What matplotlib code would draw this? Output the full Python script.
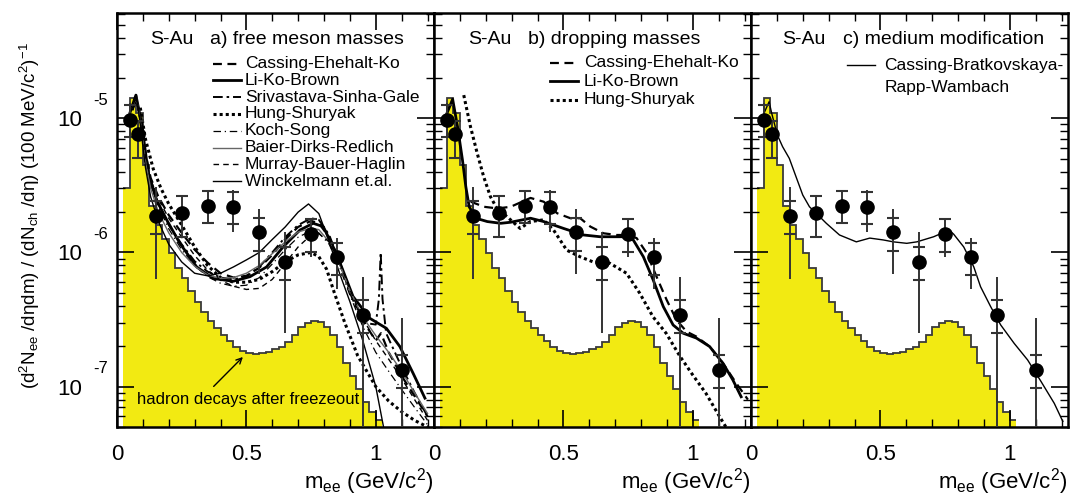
import numpy as np
import matplotlib.pyplot as plt

plt.rcParams['font.family'] = ['Liberation Sans', 'DejaVu Sans']
plt.rcParams['mathtext.fontset'] = 'custom'
plt.rcParams['mathtext.rm'] = 'Liberation Sans'
plt.rcParams['mathtext.it'] = 'Liberation Sans:italic'

# hadron decay cocktail, 25 MeV bins from 0.025 to 1.025 GeV
hist_edges = np.round(np.arange(0.025, 1.026, 0.025), 3)
hist_vals = [3.0e-6, 1.41e-5, 1.09e-5, 4.49e-6, 2.22e-6, 1.60e-6, 1.25e-6, 9.9e-7,
             7.6e-7, 6.4e-7, 5.2e-7, 4.3e-7, 3.58e-7, 3.1e-7, 2.72e-7, 2.43e-7,
             2.2e-7, 1.99e-7, 1.85e-7, 1.77e-7, 1.74e-7, 1.78e-7, 1.82e-7, 1.9e-7,
             1.99e-7, 2.14e-7, 2.43e-7, 2.8e-7, 3.0e-7, 3.1e-7, 3.05e-7, 2.8e-7,
             2.43e-7, 1.99e-7, 1.51e-7, 1.19e-7, 9.6e-8, 7.7e-8, 6.5e-8, 5.65e-8]

# CERES S-Au data
m_data = [0.05, 0.08, 0.15, 0.25, 0.35, 0.45, 0.55, 0.65, 0.75, 0.85, 0.95, 1.10]
y_data = [9.8e-6, 7.6e-6, 1.88e-6, 1.98e-6, 2.23e-6, 2.19e-6, 1.41e-6, 8.5e-7,
          1.37e-6, 9.2e-7, 3.44e-7, 1.33e-7]
stat_hi = [1.3e-5, 9.8e-6, 3.1e-6, 2.65e-6, 2.9e-6, 2.9e-6, 2.11e-6, 1.43e-6,
           1.8e-6, 1.29e-6, 6.6e-7, 3.24e-7]
stat_lo = [7.2e-6, 5.1e-6, 6.35e-7, 1.28e-6, 1.65e-6, 1.43e-6, 6.9e-7, 2.53e-7,
           9.2e-7, 5.3e-7, 1e-8, 1e-8]
sys_hi = [1.26e-5, 9.6e-6, 2.43e-6, 2.65e-6, 2.88e-6, 2.84e-6, 1.82e-6, 1.09e-6,
          1.77e-6, 1.18e-6, 4.43e-7, 1.71e-7]
sys_lo = [7.2e-6, 5.1e-6, 1.37e-6, 1.31e-6, 1.65e-6, 1.62e-6, 1.03e-6, 6.25e-7,
          1.0e-6, 6.8e-7, 2.52e-7, 9.7e-8]

# a) free meson masses
cek_a_m = [0.06, 0.075, 0.09, 0.11, 0.13, 0.16, 0.2, 0.25, 0.3, 0.35, 0.4, 0.45, 0.5, 0.55,
           0.6, 0.65, 0.7, 0.75, 0.78, 0.82, 0.86, 0.9, 0.95, 1.0, 1.02, 1.05, 1.1, 1.15, 1.2]
cek_a_y = [1.2e-5, 1.4e-5, 1.0e-5, 5.5e-6, 3.6e-6, 2.6e-6, 1.9e-6, 1.4e-6, 1.05e-6, 8.4e-7,
           7.0e-7, 6.5e-7, 6.7e-7, 7.7e-7, 9.6e-7, 1.25e-6, 1.55e-6, 1.72e-6, 1.65e-6, 1.3e-6,
           8.5e-7, 5.2e-7, 3.1e-7, 2.2e-7, 2.5e-7, 1.8e-7, 1.2e-7, 8.5e-8, 6e-8]
lkb_a_m = [0.05, 0.073, 0.095, 0.121, 0.153, 0.192, 0.243, 0.308, 0.372, 0.449, 0.514, 0.578,
           0.642, 0.707, 0.758, 0.797, 0.848, 0.912, 0.977, 1.041, 1.093, 1.144, 1.19]
lkb_a_y = [1.1e-5, 1.49e-5, 9.2e-6, 3.89e-6, 2.46e-6, 1.75e-6, 1.17e-6, 7.8e-7, 6.4e-7, 6.1e-7,
           6.6e-7, 7.8e-7, 1.1e-6, 1.47e-6, 1.65e-6, 1.56e-6, 9.8e-7, 4.7e-7, 3.23e-7, 2.72e-7,
           1.99e-7, 1.26e-7, 8.2e-8]
ssg_a_m = [0.06, 0.075, 0.09, 0.11, 0.13, 0.16, 0.2, 0.25, 0.3, 0.35, 0.4, 0.45, 0.5, 0.55,
           0.6, 0.65, 0.7, 0.75, 0.78, 0.82, 0.86, 0.9, 0.95, 1.0, 1.012, 1.019, 1.026, 1.04,
           1.1, 1.15, 1.2]
ssg_a_y = [1.15e-5, 1.4e-5, 9.8e-6, 5.2e-6, 3.3e-6, 2.3e-6, 1.6e-6, 1.15e-6, 8.6e-7, 7.2e-7,
           6.5e-7, 6.3e-7, 6.6e-7, 7.8e-7, 1.0e-6, 1.3e-6, 1.6e-6, 1.8e-6, 1.75e-6, 1.35e-6,
           8.5e-7, 5.0e-7, 3.0e-7, 2.9e-7, 4.5e-7, 1.0e-6, 4.5e-7, 2.5e-7, 1.4e-7, 9e-8, 6e-8]
hs_a_m = [0.09, 0.11, 0.14, 0.17, 0.2, 0.25, 0.3, 0.35, 0.4, 0.45, 0.5, 0.55, 0.6, 0.65,
          0.7, 0.75, 0.78, 0.81, 0.84, 0.88, 0.93, 1.0, 1.05, 1.1, 1.15, 1.2]
hs_a_y = [1.2e-5, 7e-6, 4.2e-6, 3.0e-6, 2.3e-6, 1.6e-6, 1.1e-6, 8e-7, 6.5e-7, 6.0e-7,
          6.0e-7, 6.3e-7, 7.2e-7, 8.5e-7, 9.6e-7, 1.0e-6, 9.3e-7, 7.5e-7, 5e-7, 3e-7,
          1.7e-7, 1.0e-7, 7.8e-8, 6.5e-8, 5.6e-8, 5.0e-8]
ks_a_m = [0.06, 0.075, 0.09, 0.11, 0.13, 0.16, 0.2, 0.25, 0.3, 0.35, 0.4, 0.45, 0.5, 0.55,
          0.6, 0.65, 0.7, 0.75, 0.78, 0.82, 0.86, 0.9, 0.95, 1.0, 1.05, 1.1, 1.15, 1.2]
ks_a_y = [1.15e-5, 1.4e-5, 9.5e-6, 5e-6, 3.2e-6, 2.2e-6, 1.5e-6, 1.05e-6, 8e-7, 6.6e-7,
          5.9e-7, 5.6e-7, 5.7e-7, 6.5e-7, 8.2e-7, 1.05e-6, 1.3e-6, 1.45e-6, 1.4e-6, 1.15e-6,
          7.8e-7, 4.8e-7, 2.8e-7, 1.8e-7, 1.3e-7, 9.5e-8, 7e-8, 5.2e-8]
bdr_a_m = [0.06, 0.075, 0.09, 0.11, 0.13, 0.16, 0.2, 0.25, 0.3, 0.35, 0.4, 0.45, 0.5, 0.55,
           0.6, 0.65, 0.7, 0.75, 0.78, 0.82, 0.86, 0.9, 0.95, 1.0, 1.05, 1.1, 1.15, 1.2]
bdr_a_y = [1.2e-5, 1.45e-5, 9.5e-6, 4.8e-6, 3.0e-6, 2.0e-6, 1.4e-6, 1.0e-6, 7.9e-7, 6.8e-7,
           6.4e-7, 6.5e-7, 7.0e-7, 8.0e-7, 9.8e-7, 1.2e-6, 1.42e-6, 1.52e-6, 1.48e-6, 1.2e-6,
           8.2e-7, 5.2e-7, 3.3e-7, 2.4e-7, 1.8e-7, 1.3e-7, 9e-8, 6.3e-8]
mbh_a_m = [0.06, 0.075, 0.09, 0.11, 0.13, 0.16, 0.2, 0.25, 0.3, 0.35, 0.4, 0.45, 0.5, 0.55,
           0.6, 0.65, 0.7, 0.75, 0.78, 0.82, 0.86, 0.9, 0.95, 1.0, 1.05, 1.1, 1.15, 1.2]
mbh_a_y = [1.15e-5, 1.4e-5, 9.5e-6, 5.2e-6, 3.5e-6, 2.5e-6, 1.8e-6, 1.3e-6, 9.5e-7, 7.4e-7,
           6.2e-7, 5.6e-7, 5.3e-7, 5.4e-7, 6.3e-7, 8.3e-7, 1.1e-6, 1.35e-6, 1.38e-6, 1.2e-6,
           8.5e-7, 5.3e-7, 3.2e-7, 2.2e-7, 1.6e-7, 1.15e-7, 8e-8, 5.6e-8]
win_a_m = [0.06, 0.075, 0.09, 0.11, 0.13, 0.16, 0.2, 0.25, 0.3, 0.35, 0.4, 0.45, 0.5, 0.55,
           0.6, 0.65, 0.7, 0.74, 0.78, 0.82, 0.86, 0.9, 0.95, 1.0, 1.03]
win_a_y = [1.2e-5, 1.5e-5, 9e-6, 4.3e-6, 2.6e-6, 1.7e-6, 1.15e-6, 8.5e-7, 7.0e-7, 6.7e-7,
           7.0e-7, 7.8e-7, 8.8e-7, 1.0e-6, 1.25e-6, 1.55e-6, 2.0e-6, 2.3e-6, 1.95e-6, 1.2e-6,
           7e-7, 4.3e-7, 2.2e-7, 1.0e-7, 5e-8]

# b) dropping masses
cek_b_m = [0.142, 0.194, 0.245, 0.296, 0.373, 0.424, 0.476, 0.527, 0.565, 0.604, 0.655,
           0.706, 0.745, 0.783, 0.822, 0.86, 0.899, 0.937, 0.976, 1.014, 1.065, 1.117, 1.168,
           1.213]
cek_b_y = [2.39e-6, 2.19e-6, 2.13e-6, 2.19e-6, 2.55e-6, 2.39e-6, 1.96e-6, 1.8e-6, 1.8e-6,
           1.56e-6, 1.39e-6, 1.35e-6, 1.35e-6, 1.28e-6, 9.9e-7, 6.6e-7, 4.43e-7, 3.14e-7,
           2.57e-7, 2.36e-7, 1.99e-7, 1.49e-7, 1.06e-7, 8.0e-8]
lkb_b_m = [0.05, 0.072, 0.091, 0.11, 0.123, 0.136, 0.162, 0.206, 0.258, 0.296, 0.373, 0.424,
           0.501, 0.578, 0.642, 0.732, 0.77, 0.809, 0.847, 0.886, 0.924, 0.963, 1.014, 1.065,
           1.117, 1.155, 1.187]
lkb_b_y = [1.09e-5, 1.39e-5, 8.66e-6, 4.89e-6, 3.09e-6, 2.19e-6, 1.8e-6, 1.7e-6, 1.65e-6,
           1.68e-6, 1.8e-6, 1.7e-6, 1.51e-6, 1.35e-6, 1.31e-6, 1.31e-6, 1.24e-6, 9.3e-7,
           6.24e-7, 3.95e-7, 2.88e-7, 2.5e-7, 2.3e-7, 1.99e-7, 1.49e-7, 1.12e-7, 8.4e-8]
hs_b_m = [0.115, 0.141, 0.167, 0.192, 0.218, 0.243, 0.282, 0.333, 0.372, 0.423, 0.462,
          0.513, 0.564, 0.615, 0.68, 0.744, 0.795, 0.846, 0.897, 0.949, 1.0, 1.051, 1.103,
          1.128]
hs_b_y = [1.49e-5, 8.66e-6, 5.49e-6, 3.67e-6, 2.61e-6, 2.13e-6, 1.85e-6, 1.51e-6, 1.7e-6,
          1.75e-6, 1.47e-6, 1.04e-6, 9.3e-7, 8.5e-7, 8.3e-7, 7.0e-7, 4.97e-7, 3.32e-7,
          2.5e-7, 1.7e-7, 1.22e-7, 8.9e-8, 6.0e-8, 5.0e-8]

# c) medium modification
cbrw_m = [0.05, 0.07, 0.08, 0.102, 0.122, 0.148, 0.174, 0.2, 0.226, 0.252, 0.291, 0.342,
          0.407, 0.459, 0.511, 0.55, 0.602, 0.641, 0.706, 0.765, 0.783, 0.822, 0.861, 0.887,
          0.926, 0.965, 1.017, 1.069, 1.121, 1.172, 1.205]
cbrw_y = [1.09e-5, 1.33e-5, 1.09e-5, 7.5e-6, 6.15e-6, 5.03e-6, 3.67e-6, 2.68e-6, 2.19e-6,
          1.96e-6, 1.65e-6, 1.35e-6, 1.2e-6, 1.28e-6, 1.24e-6, 1.2e-6, 1.17e-6, 1.2e-6,
          1.31e-6, 1.47e-6, 1.37e-6, 1.1e-6, 7.8e-7, 5.56e-7, 3.95e-7, 2.88e-7, 2.1e-7,
          1.58e-7, 1.09e-7, 7.5e-8, 5.5e-8]

yellow = '#f2ea12'
styles = {
    'cek': dict(color='black', lw=1.6, ls=(0, (4, 2.5))),
    'lkb': dict(color='black', lw=2.0, ls='-'),
    'ssg': dict(color='black', lw=1.4, ls=(0, (5, 2, 1.3, 2))),
    'hs': dict(color='black', lw=2.2, ls=(0, (1, 1))),
    'ks': dict(color='black', lw=0.9, ls=(0, (6, 3, 1, 3))),
    'bdr': dict(color='#666666', lw=1.0, ls='-'),
    'mbh': dict(color='black', lw=1.0, ls=(0, (4, 3))),
    'win': dict(color='black', lw=1.0, ls='-'),
}

fig = plt.figure(figsize=(10.7, 4.98), dpi=100)
W = 317 / 1070
axes = [fig.add_axes([117 / 1070 + i * W, 0.1426, W, 0.8313]) for i in range(3)]


def legend_rows(ax, rows, x0, x1, xt, y0, dy):
    # line sample plus text, in axes fraction
    for i, (key, label) in enumerate(rows):
        y = y0 - i * dy
        if key is not None:
            ax.plot([x0, x1], [y, y], transform=ax.transAxes, **styles[key])
        ax.text(xt, y, label, transform=ax.transAxes, fontsize=12.5, va='center', ha='left')


for i, ax in enumerate(axes):
    ax.stairs(hist_vals, hist_edges, fill=True, color=yellow, baseline=1e-9, lw=0)
    ax.stairs(hist_vals, hist_edges, baseline=None, color='#3a3a3a', lw=1.3)

    ax.set_yscale('log')
    ax.set_xlim(0, 1.225)
    ax.set_ylim(5.0e-8, 6.1e-5)
    ax.set_xticks([0, 0.5, 1.0])
    ax.set_xticklabels(['0', '0.5', '1'])
    ax.set_xticks(np.arange(0, 1.21, 0.1), minor=True)
    ax.set_yticks([1e-7, 1e-6, 1e-5])
    ax.tick_params(which='both', direction='in', top=True, right=True, labelsize=16)
    ax.tick_params(which='major', length=12, width=1.2)
    ax.tick_params(which='minor', length=6, width=1.0)
    ax.tick_params(axis='x', pad=12)
    ax.tick_params(axis='y', pad=25)
    for s in ax.spines.values():
        s.set_linewidth(1.8)
    if i == 0:
        ax.set_yticklabels(['10', '10', '10'])
        for v, e in zip([1e-7, 1e-6, 1e-5], ['-7', '-6', '-5']):
            ax.annotate(e, xy=(-0.076, v), xycoords=('axes fraction', 'data'),
                        xytext=(0, 13), textcoords='offset points', fontsize=12,
                        va='center', ha='left', annotation_clip=False)
    else:
        ax.set_yticklabels([])
    ax.yaxis.set_minor_formatter(plt.NullFormatter())
    ax.set_xlabel(r'm$_{\mathrm{ee}}$ (GeV/c$^2$)', fontsize=16, loc='right', labelpad=1)

ax_a, ax_b, ax_c = axes

ax_a.plot(cek_a_m, cek_a_y, **styles['cek'])
ax_a.plot(lkb_a_m, lkb_a_y, **styles['lkb'])
ax_a.plot(ssg_a_m, ssg_a_y, **styles['ssg'])
ax_a.plot(hs_a_m, hs_a_y, **styles['hs'])
ax_a.plot(ks_a_m, ks_a_y, **styles['ks'])
ax_a.plot(bdr_a_m, bdr_a_y, **styles['bdr'])
ax_a.plot(mbh_a_m, mbh_a_y, **styles['mbh'])
ax_a.plot(win_a_m, win_a_y, **styles['win'])

ax_b.plot(cek_b_m, cek_b_y, **styles['cek'])
ax_b.plot(lkb_b_m, lkb_b_y, **styles['lkb'])
ax_b.plot(hs_b_m, hs_b_y, **styles['hs'])

ax_c.plot(cbrw_m, cbrw_y, color='black', lw=1.0)

# data points: vertical line = statistical, caps = systematic
for ax in axes:
    y = np.array(y_data)
    ax.errorbar(m_data, y_data, yerr=[y - np.array(stat_lo), np.array(stat_hi) - y],
                fmt='o', color='black', ms=9.5, ecolor='#333333', elinewidth=1.4, capsize=0,
                zorder=5)
    ax.plot(m_data, sys_hi, '_', color='#333333', ms=8, mew=1.5, zorder=5)
    ax.plot(m_data, sys_lo, '_', color='#333333', ms=8, mew=1.5, zorder=5)

# titles
ax_a.text(0.104, 0.935, 'S-Au', transform=ax_a.transAxes, fontsize=14, va='center')
ax_a.text(0.293, 0.935, 'a) free meson masses', transform=ax_a.transAxes, fontsize=14, va='center')
ax_b.text(0.107, 0.935, 'S-Au', transform=ax_b.transAxes, fontsize=14, va='center')
ax_b.text(0.297, 0.935, 'b) dropping masses', transform=ax_b.transAxes, fontsize=14, va='center')
ax_c.text(0.098, 0.935, 'S-Au', transform=ax_c.transAxes, fontsize=14, va='center')
ax_c.text(0.29, 0.935, 'c) medium modification', transform=ax_c.transAxes, fontsize=14, va='center')

legend_rows(ax_a, [('cek', 'Cassing-Ehehalt-Ko'), ('lkb', 'Li-Ko-Brown'),
                   ('ssg', 'Srivastava-Sinha-Gale'), ('hs', 'Hung-Shuryak'),
                   ('ks', 'Koch-Song'), ('bdr', 'Baier-Dirks-Redlich'),
                   ('mbh', 'Murray-Bauer-Haglin'), ('win', 'Winckelmann et.al.')],
            0.303, 0.391, 0.404, 0.878, 0.0406)
legend_rows(ax_b, [('cek', 'Cassing-Ehehalt-Ko'), ('lkb', 'Li-Ko-Brown'),
                   ('hs', 'Hung-Shuryak')],
            0.366, 0.454, 0.473, 0.880, 0.045)
legend_rows(ax_c, [('win', 'Cassing-Bratkovskaya-'), (None, 'Rapp-Wambach')],
            0.303, 0.391, 0.42, 0.874, 0.055)

ax_a.annotate('', xy=(0.494, 1.72e-7), xytext=(0.366, 9.7e-8),
              arrowprops=dict(arrowstyle='->', color='black', lw=1.0))
ax_a.text(0.077, 7.96e-8, 'hadron decays after freezeout', fontsize=12, va='center')

fig.text(0.028, 0.567, r'(d$^2$N$_{\mathrm{ee}}$ /dηdm) / (dN$_{\mathrm{ch}}$ /dη) (100 MeV/c$^2$)$^{-1}$',
         rotation=90, fontsize=13.5, va='center', ha='center')

fig.savefig('out.png', dpi=100)
